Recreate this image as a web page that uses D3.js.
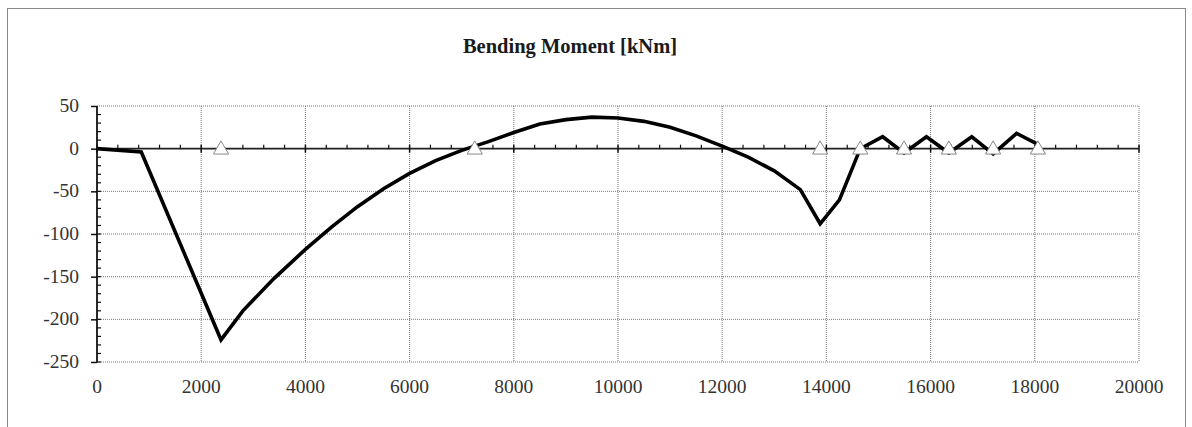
<!DOCTYPE html>
<html>
<head>
<meta charset="utf-8">
<script src="https://cdnjs.cloudflare.com/ajax/libs/d3/7.8.5/d3.min.js"></script>
<style>
body{margin:0;background:#fff;}
</style>
</head>
<body>
<svg></svg>
<script>
// positions along beam [mm]
var positions = [0,850,2380,2800,3400,4000,4500,5000,5500,6000,6500,7000,7500,8000,8500,9000,9500,
                 10000,10500,11000,11500,12000,12500,13000,13500,13880,14250,14650,15080,15490,
                 15920,16350,16790,17200,17650,18060];
// bending moment [kNm]
var moments = [0,-4,-224,-190,-152,-118,-92,-68,-47,-29,-14,-2,8,19,29,34,37,
               36,32,25,15,3,-10,-26,-48,-88,-60,0,14,-5,
               14,-5,14,-6,18,5];
// supports
var supports = [2380,7250,13880,14650,15490,16350,17200,18060];

var xTicks = [0,2000,4000,6000,8000,10000,12000,14000,16000,18000,20000];
var yTicks = [50,0,-50,-100,-150,-200,-250];

var serif = "'Liberation Serif','Times New Roman',Times,serif";

var screen = {width:1192,height:427}
var margins = {left:97,right:53,top:106,bottom:65}
var graph = {
    width:screen.width-margins.left-margins.right,
    height:screen.height-margins.top-margins.bottom
}

var svg = d3.select("svg")
    .attr("width",screen.width)
    .attr("height",screen.height)

//outer chart frame
svg.append("rect")
    .attr("x",7.5).attr("y",8.5)
    .attr("width",1178).attr("height",430)
    .attr("fill","none")
    .attr("stroke","#8a8a8a")

svg.append("text")
    .text("Bending Moment [kNm]")
    .attr("x",570)
    .attr("y",53)
    .attr("text-anchor","middle")
    .attr("font-family",serif)
    .attr("font-weight","bold")
    .attr("font-size","20.5px")
    .attr("fill","#1a1a1a")

var xScale = d3.scaleLinear().domain([0,20000]).range([0,graph.width])
var yScale = d3.scaleLinear().domain([-250,50]).range([graph.height,0])

var target = svg.append("g")
    .attr("transform","translate("+margins.left+","+margins.top+")")

//gridlines
target.append("g").selectAll("line")
    .data(xTicks.slice(1))
    .enter().append("line")
    .attr("x1",function(d){return xScale(d)})
    .attr("x2",function(d){return xScale(d)})
    .attr("y1",0).attr("y2",graph.height)
    .attr("stroke","#777")
    .attr("stroke-dasharray","1,1")

target.append("g").selectAll("line")
    .data(yTicks)
    .enter().append("line")
    .attr("x1",0).attr("x2",graph.width)
    .attr("y1",function(d){return yScale(d)})
    .attr("y2",function(d){return yScale(d)})
    .attr("stroke","#777")
    .attr("stroke-dasharray","1,1")

//y axis: major ticks out, minor ticks in
var yAxis = d3.axisLeft(yScale).tickValues(yTicks).tickSize(6).tickFormat("")
var yAxisG = target.append("g").call(yAxis)
yAxisG.select(".domain").remove()
yAxisG.selectAll("line").attr("stroke","#111").attr("stroke-width",1.5)
target.append("line")
    .attr("x1",0).attr("x2",0)
    .attr("y1",yScale(50)).attr("y2",yScale(-250))
    .attr("stroke","#111").attr("stroke-width",1.8)
var yMinor = d3.range(-250,50,10)
target.append("g").selectAll("line")
    .data(yMinor)
    .enter().append("line")
    .attr("x1",0).attr("x2",4)
    .attr("y1",function(d){return yScale(d)})
    .attr("y2",function(d){return yScale(d)})
    .attr("stroke","#111").attr("stroke-width",1.2)

//x axis along zero line
target.append("line")
    .attr("x1",0).attr("x2",graph.width)
    .attr("y1",yScale(0)).attr("y2",yScale(0))
    .attr("stroke","#222").attr("stroke-width",1.6)
target.append("g").selectAll("line")
    .data(xTicks)
    .enter().append("line")
    .attr("x1",function(d){return xScale(d)})
    .attr("x2",function(d){return xScale(d)})
    .attr("y1",yScale(0)-4).attr("y2",yScale(0)+4)
    .attr("stroke","#111").attr("stroke-width",1.5)
var xMinor = d3.range(400,20000,400).filter(function(d){return d%2000!=0})
target.append("g").selectAll("line")
    .data(xMinor)
    .enter().append("line")
    .attr("x1",function(d){return xScale(d)})
    .attr("x2",function(d){return xScale(d)})
    .attr("y1",yScale(0)-4).attr("y2",yScale(0))
    .attr("stroke","#111").attr("stroke-width",1.2)

//tick labels
target.append("g").selectAll("text")
    .data(xTicks)
    .enter().append("text")
    .text(function(d){return d})
    .attr("x",function(d){return xScale(d)})
    .attr("y",graph.height+31)
    .attr("text-anchor","middle")
    .attr("font-family",serif)
    .attr("font-size","19.5px")
    .attr("fill","#333")

target.append("g").selectAll("text")
    .data(yTicks)
    .enter().append("text")
    .text(function(d){return d})
    .attr("x",-18)
    .attr("y",function(d){return yScale(d)+6})
    .attr("text-anchor","end")
    .attr("font-family",serif)
    .attr("font-size","19.5px")
    .attr("fill","#333")

//moment line
var points = positions.map(function(p,i){return {x:p,m:moments[i]}})
var line = d3.line()
    .x(function(d){return xScale(d.x)})
    .y(function(d){return yScale(d.m)})
target.append("path")
    .datum(points)
    .attr("d",line)
    .attr("fill","none")
    .attr("stroke","#000")
    .attr("stroke-width",3.6)
    .attr("stroke-linejoin","miter")

//support markers
target.append("g").selectAll("path")
    .data(supports)
    .enter().append("path")
    .attr("d",d3.symbol().type(d3.symbolTriangle).size(100))
    .attr("transform",function(d){return "translate("+xScale(d)+","+(yScale(0)+1)+")"})
    .attr("fill","#fff")
    .attr("stroke","#888")
    .attr("stroke-width",1)
</script>
</body>
</html>
